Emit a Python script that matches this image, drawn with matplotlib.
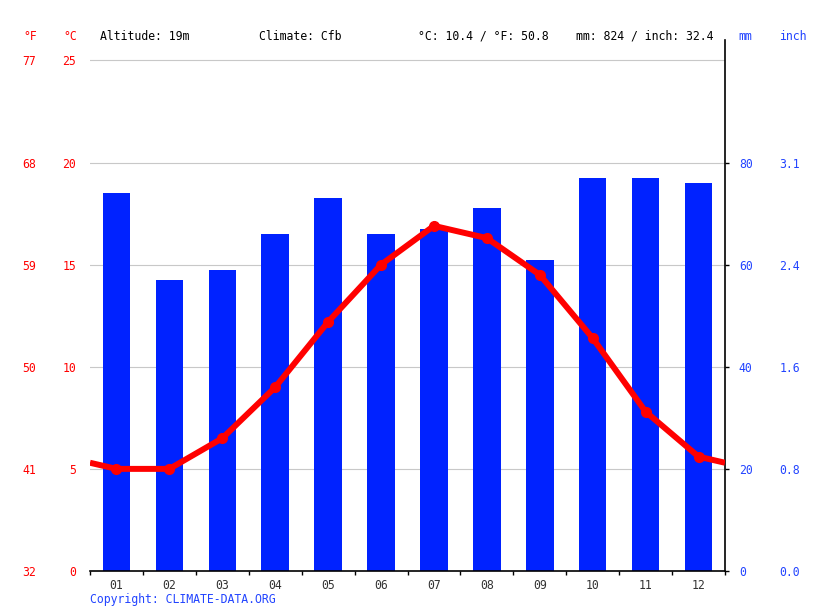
import numpy as np
import matplotlib
matplotlib.use("Agg")
import matplotlib.pyplot as plt
import matplotlib.ticker as ticker

months = ['01', '02', '03', '04', '05', '06', '07', '08', '09', '10', '11', '12']
precip_mm = [74, 57, 59, 66, 73, 66, 67, 71, 61, 77, 77, 76]
temp_c = [5.0, 5.0, 6.5, 9.0, 12.2, 15.0, 16.9, 16.3, 14.5, 11.4, 7.8, 5.6]
c_ticks = [0, 5, 10, 15, 20, 25]
mm_ticks = [0, 20, 40, 60, 80, 100]
altitude = '19m'
climate = 'Cfb'

plt.rcParams['font.family'] = 'DejaVu Sans Mono'
fs = 8.3
red = '#ff0000'
blue = '#2244ff'

W, H = 815, 611
fig = plt.figure(figsize=(W / 100, H / 100), dpi=100)
left, right, bottom, top = 90, 725, 571, 40
ax = fig.add_axes([left / W, (H - bottom) / H, (right - left) / W, (bottom - top) / H])
ax_in = ax.twinx()
ax_f = ax.twinx()
ax_t = ax.twinx()

x = np.arange(1, 13)
# precipitation bars (mm scale: 1 degC = 4 mm)
ax.bar(x, precip_mm, width=0.52, color='#0022ff', zorder=2)
ax.set_xlim(0.5, 12.5)
ax.set_ylim(0, 26 * 4)
ax.yaxis.tick_right()
ax.set_yticks(mm_ticks)
ax.yaxis.set_major_formatter(ticker.FuncFormatter(lambda v, p: '' if v > 80 else '%d' % v))
ax.tick_params(axis='y', which='major', length=3, width=1, pad=7,
               colors='black', labelcolor=blue, labelsize=fs)
ax.yaxis.get_major_ticks()[-1].tick2line.set_visible(False)
ax.grid(axis='y', color='#c8c8c8', lw=0.8, zorder=0)
ax.set_axisbelow(True)

# month ticks
ax.set_xticks(np.arange(0.5, 13, 1))
ax.xaxis.set_major_formatter(ticker.NullFormatter())
ax.set_xticks(x, minor=True)
ax.set_xticklabels(months, minor=True)
ax.tick_params(axis='x', which='major', length=3, width=1, color='black')
ax.tick_params(axis='x', which='minor', length=0, pad=6, labelsize=fs, labelcolor='#333333')

for s in ['left', 'top']:
    ax.spines[s].set_visible(False)
ax.spines['right'].set_linewidth(1.2)
ax.spines['bottom'].set_linewidth(1.2)

# inch labels
ax_in.set_ylim(ax.get_ylim())
ax_in.yaxis.tick_right()
ax_in.set_yticks(mm_ticks[:-1])
ax_in.set_yticklabels(['%.1f' % (v / 25.4) for v in mm_ticks[:-1]])
ax_in.tick_params(axis='y', length=0, pad=39, labelcolor=blue, labelsize=fs)
for s in ax_in.spines.values():
    s.set_visible(False)

# fahrenheit labels
ax_f.set_ylim(0, 26)
ax_f.yaxis.tick_left()
ax_f.set_yticks(c_ticks)
ax_f.set_yticklabels(['%d' % round(c * 9 / 5 + 32) for c in c_ticks])
ax_f.tick_params(axis='y', length=0, pad=39, labelcolor=red, labelsize=fs)
for s in ax_f.spines.values():
    s.set_visible(False)

# temperature line
ax_t.set_ylim(0, 26)
edge = (temp_c[0] + temp_c[-1]) / 2
line_x = [0.5] + list(x) + [12.5]
line_y = [edge] + temp_c + [edge]
ax_t.plot(line_x, line_y, color=red, lw=4.3, solid_capstyle='butt', zorder=3)
ax_t.plot(x, temp_c, 'o', color=red, ms=7, zorder=4)
ax_t.yaxis.tick_left()
ax_t.set_yticks(c_ticks)
ax_t.tick_params(axis='y', length=0, pad=10, labelcolor=red, labelsize=fs)
for s in ax_t.spines.values():
    s.set_visible(False)

# header texts
yh = 1 - 36 / H
mean_c = np.mean(temp_c)
total_mm = sum(precip_mm)
fig.text(30 / W, yh, '°F', color=red, fontsize=fs, ha='center', va='center')
fig.text(70 / W, yh, '°C', color=red, fontsize=fs, ha='center', va='center')
fig.text(100 / W, yh, 'Altitude: ' + altitude, fontsize=fs, va='center')
fig.text(259 / W, yh, 'Climate: ' + climate, fontsize=fs, va='center')
fig.text(418 / W, yh, '°C: %.1f / °F: %.1f' % (mean_c, mean_c * 9 / 5 + 32), fontsize=fs, va='center')
fig.text(576 / W, yh, 'mm: %d / inch: %.1f' % (total_mm, total_mm / 25.4), fontsize=fs, va='center')
fig.text(738 / W, yh, 'mm', color=blue, fontsize=fs, va='center')
fig.text(779 / W, yh, 'inch', color=blue, fontsize=fs, va='center')
fig.text(90 / W, 1 - 599 / H, 'Copyright: CLIMATE-DATA.ORG', color=blue, fontsize=fs, va='center')

fig.savefig('out.png', dpi=100)
